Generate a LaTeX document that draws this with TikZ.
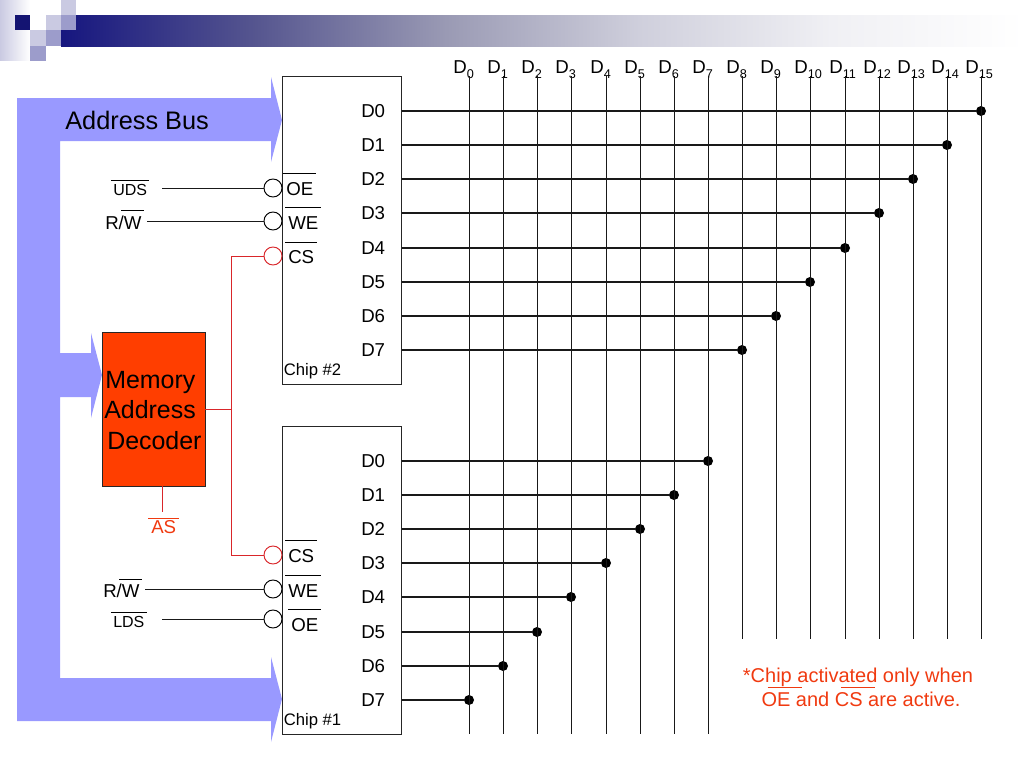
\documentclass[tikz,border=0pt]{standalone}
\usepackage{fontspec}
\setmainfont{Liberation Sans}
\usepackage{tikz}
\definecolor{busblue}{HTML}{9999FF}
\definecolor{navy}{HTML}{16167F}
\definecolor{fadea}{HTML}{55558F}
\definecolor{fadeb}{HTML}{9A9AB4}
\definecolor{fadec}{HTML}{CFCFDC}
\definecolor{faded}{HTML}{F0F0F4}
\definecolor{decoderred}{HTML}{FF3E00}
\definecolor{notered}{HTML}{F03A10}
\definecolor{wirered}{HTML}{D9262A}
\definecolor{lightsq}{HTML}{CACAE2}
\definecolor{midsq}{HTML}{9C9CCB}
\pgfdeclarehorizontalshading{headerfade}{100bp}{color(0bp)=(navy); color(25bp)=(navy); color(35bp)=(fadea); color(45bp)=(fadeb); color(55bp)=(fadec); color(65bp)=(faded); color(75bp)=(white); color(100bp)=(white)}
% bar over a signal name: #1 is its height over the baseline
\newsavebox\ovlbox
\def\ovlshift{-.15em}
\newcommand{\ovl}[2][1.12em]{\sbox\ovlbox{#2}\rlap{\kern\ovlshift\rule[#1]{\dimexpr\wd\ovlbox+.3em\relax}{.7pt}}\usebox\ovlbox}
\newcommand{\dsub}[1]{D\raisebox{-.3em}{\fontsize{9.5}{9.5}\selectfont #1}}
\tikzset{
	chipbox/.style={draw=black!85,line width=.75pt,minimum width=89.25pt,minimum height=231pt,inner sep=0},
	bubble/.style={draw,circle,fill=white,minimum size=13.5pt,inner sep=0,line width=.7pt},
	dot/.style={fill=black,circle,minimum size=7.5pt,inner sep=0},
	wire/.style={line width=.78pt,black!90},
	buswire/.style={line width=.72pt,black!90},
	redwire/.style={line width=.72pt,wirered},
	signal/.style={anchor=base west,inner sep=0,font=\fontsize{14}{14}\selectfont},
	smallsig/.style={anchor=base west,inner sep=0,font=\fontsize{12}{12}\selectfont},
	chipname/.style={anchor=base west,inner sep=0,font=\fontsize{12.5}{12.5}\selectfont},
	decodertext/.style={anchor=base west,inner sep=0,font=\fontsize{18.7}{18.7}\selectfont},
	notetext/.style={anchor=base,inner sep=0,text=notered,font=\fontsize{15}{15}\selectfont},
}
\begin{document}
\begin{tikzpicture}[x=.75pt,y=-.75pt]
	\useasboundingbox (0,0) rectangle (1024,768);
	
	% slide header
	\shade[shading=headerfade] (61,15) rectangle (1024,46);
	\shade[left color=lightsq,right color=white] (0,0) rectangle (30,60);
	\fill[navy!90!black] (15,15) rectangle +(15,15);
	\fill[white] (30,15) rectangle +(16,15);
	\fill[lightsq] (46,15) rectangle +(15,15);
	\fill[lightsq] (61,0) rectangle +(15,15);
	\fill[midsq] (61,15) rectangle +(15,15);
	\fill[lightsq] (30,30) rectangle +(16,16);
	\fill[midsq] (46,30) rectangle +(15,16);
	\fill[midsq] (30,46) rectangle +(16,15);
	
	% address bus
	\fill[busblue] (17,98) -- (271,98) -- (271,77) -- (282,120) -- (271,162) -- (271,141) -- (60,141)
		-- (60,353) -- (91,353) -- (91,333) -- (102,375) -- (91,418) -- (91,397) -- (60,397)
		-- (60,678) -- (271,678) -- (271,657) -- (282,699) -- (271,742) -- (271,721) -- (17,721) -- cycle;
	\node (busname) [anchor=base west,inner sep=0,font=\fontsize{19}{19}\selectfont] at (65,129) {Address Bus};
	
	% chips and decoder
	\node (chiptwo) [chipbox] at (341.5,230) {};
	\node (chipone) [chipbox] at (341.5,580) {};
	\node (decoder) [draw=black!85,fill=decoderred,minimum width=77.25pt,minimum height=115.5pt,inner sep=0] at (153.5,409) {};
	\node (memname) [decodertext] at (105,388) {Memory};
	\node (addrname) [decodertext] at (104,418) {Address};
	\node (decname) [decodertext] at (107,449) {Decoder};
	\node (chiptwoname) [chipname] at (283.5,375) {Chip \#2};
	\node (chiponename) [chipname] at (283.5,725) {Chip \#1};
	
	% control pins
	\node (bubuds) [bubble] at (273,188) {};
	\node (bubwetwo) [bubble] at (273,221) {};
	\node (bubcstwo) [bubble,draw=wirered] at (273,256) {};
	\node (bubcsone) [bubble,draw=wirered] at (273,555) {};
	\node (bubweone) [bubble] at (273,589) {};
	\node (bublds) [bubble] at (273,619) {};
	\node (oetwo) [signal] at (286,195) {\ovl[1.12em]{OE}};
	\node (wetwo) [signal] at (288,229) {\ovl[1.12em]{WE}};
	\node (cstwo) [signal] at (288,263) {\ovl[1.08em]{CS}};
	\node (csone) [signal] at (288,562) {\ovl[1.12em]{CS}};
	\node (weone) [signal] at (288,597) {\ovl[1.12em]{WE}};
	\node (oeone) [signal] at (291,631) {\ovl[1.12em]{OE}};
	\node (uds) [smallsig] at (113,195) {\ovl[.85em]{UDS}};
	\node (rwtwo) [signal] at (105,229) {R/\ovl[.95em]{W}};
	\node (rwone) [signal] at (103,597) {R/\ovl[.9em]{W}};
	\node (lds) [smallsig] at (113,627) {\ovl[.9em]{LDS}};
	\node (asname) [signal,text=notered] at (151,533) {\ovl[.78em]{AS}};
	\coordinate (udsend) at (162,188);
	\coordinate (rwtwoend) at (147,221);
	\coordinate (rwoneend) at (145,589);
	\coordinate (ldsend) at (162,619);
	\coordinate (asend) at (162,512);
	\draw[buswire] (udsend) -- (bubuds);
	\draw[buswire] (rwtwoend) -- (bubwetwo);
	\draw[buswire] (rwoneend) -- (bubweone);
	\draw[buswire] (ldsend) -- (bublds);
	
	% decoder outputs
	\coordinate (split) at (231,409);
	\draw[redwire] (decoder.east |- split) -- (split);
	\draw[redwire] (bubcstwo) -| (split);
	\draw[redwire] (bubcsone) -| (split);
	\draw[redwire] (decoder.south -| asend) -- (asend);
	
	% data pins
	\foreach \n/\y/\x in {0/111/981,1/145/947,2/179/913,3/213/879,4/248/845,5/282/810,6/316/776,7/350/742}{
		\node (dtwo\n) [signal] at (361,\y+6.5) {D\n};
		\node (dottwo\n) [dot] at (\x,\y) {};
		\draw[wire] (chiptwo.east |- dottwo\n) -- (dottwo\n);
	}
	\foreach \n/\y/\x in {0/461/708,1/495/674,2/529/640,3/563/606,4/597/571,5/632/537,6/666/503,7/700/469}{
		\node (done\n) [signal] at (361,\y+6.5) {D\n};
		\node (dotone\n) [dot] at (\x,\y) {};
		\draw[wire] (chipone.east |- dotone\n) -- (dotone\n);
	}
	
	% data bus
	\foreach \n/\x/\b in {0/469/734,1/503/734,2/537/734,3/571/734,4/606/734,5/640/734,6/674/734,7/708/734,
		8/742/639,9/776/639,10/810/639,11/845/639,12/879/639,13/913/639,14/947/639,15/981/639}{
		\node (busd\n) [signal] at (\x-16,73) {\dsub{\n}};
		\coordinate (bustop\n) at (\x,76);
		\coordinate (busbot\n) at (\x,\b);
		\draw[buswire] (bustop\n) -- (busbot\n);
	}
	
	\node (noteone) [notetext] at (858,682) {*Chip activated only when};
	\node (notetwo) [notetext] at (861,706) {\def\ovlshift{.3em}\ovl[.9em]{OE} and \ovl[.9em]{CS} are active.};
\end{tikzpicture}
\end{document}
